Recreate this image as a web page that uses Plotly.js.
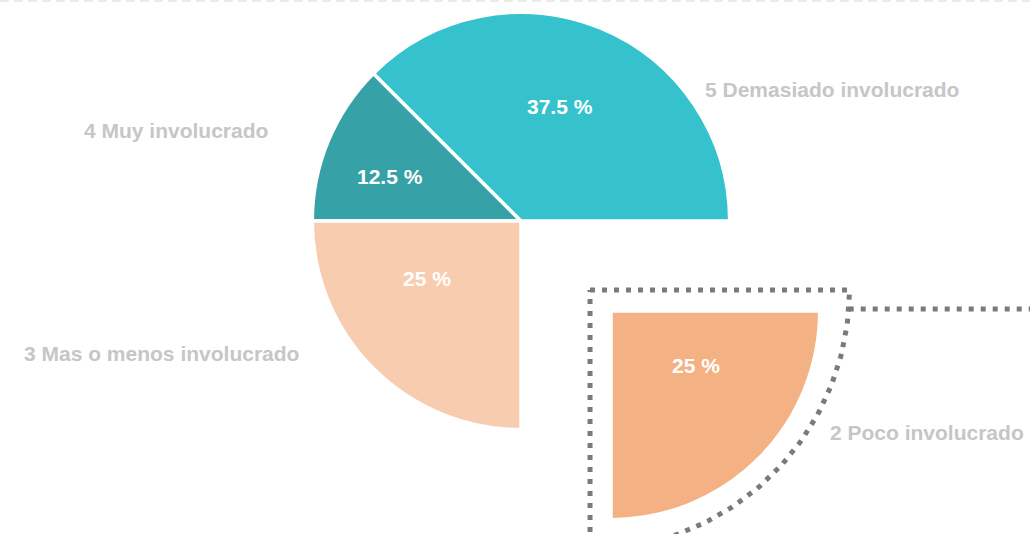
<!DOCTYPE html>
<html>
<head>
<meta charset="utf-8">
<script src="https://cdn.plot.ly/plotly-3.0.1.min.js"></script>
<style>
  html, body { margin: 0; padding: 0; background: #ffffff; width: 1030px; height: 534px; overflow: hidden; }
  /* the plot box is taller than the window so the exploded pie keeps its full radius */
  #chart { position: absolute; left: 0; top: -115px; width: 1030px; height: 672px; }
</style>
</head>
<body>
<div id="chart"></div>
<script>
// ---- data ----
const categories = ['4 Muy involucrado', '5 Demasiado involucrado', '2 Poco involucrado', '3 Mas o menos involucrado'];
const shares = [12.5, 37.5, 25, 25];
const sliceColors = ['#37A1A8', '#36C2CC', '#F4B183', '#F8CCAF'];
const explodedIndex = 2;

// ---- geometry of the page ----
const W = 1030, H = 672, TOP = -115;          // plot box size and its offset in the window
const domainX = [185 / W, 857 / W];
const ROTATION = 270;                           // first slice starts at 9 o'clock
const PULL = 0.61;
const FONT = 'Liberation Sans, Arial, Helvetica, sans-serif';

// same sizing rule the pie uses: radius = half of the box / (1 + max pull)
const boxHalf = Math.min((domainX[1] - domainX[0]) * W, H) / 2;
const R = boxHalf / (1 + PULL);
const cx = (domainX[0] + domainX[1]) / 2 * W;
const cy = H / 2 + TOP;                         // window coordinates (y down)

const total = shares.reduce((a, b) => a + b, 0);
const deg = Math.PI / 180;
const pt = (ox, oy, rho, a) => [ox + rho * Math.sin(a * deg), oy - rho * Math.cos(a * deg)];

// angles of the exploded slice (clockwise from ROTATION)
const before = shares.slice(0, explodedIndex).reduce((a, b) => a + b, 0);
const a0 = ROTATION + 360 * before / total;
const a1 = a0 + 360 * shares[explodedIndex] / total;
const aMid = (a0 + a1) / 2;
const [px, py] = pt(cx, cy, R * PULL, aMid);    // apex of the pulled slice

// dotted highlight sector around the pulled slice
const GAP = 21;
const shift = GAP / Math.sin((a1 - a0) / 2 * deg);
const [ox, oy] = pt(px, py, -shift, aMid);
const Ro = R + GAP + shift;
const outX = [ox], outY = [oy];
for (let i = 0; i <= 90; i++) {
  const [x, y] = pt(ox, oy, Ro, a0 + (a1 - a0) * i / 90);
  outX.push(x); outY.push(y);
}
outX.push(ox); outY.push(oy);

// connector running right from the highlight at the slice's top edge
const connY = py - 2;
const connX0 = ox + Math.sqrt(Ro * Ro - (connY - oy) * (connY - oy));

const dotted = { color: '#7A7A7A', width: 5, dash: '5px,7px' };

const traces = [
  {
    type: 'scatter', mode: 'lines', x: outX, y: outY,
    line: dotted, hoverinfo: 'skip', showlegend: false
  },
  {
    type: 'scatter', mode: 'lines', x: [connX0, W], y: [connY, connY],
    line: dotted, hoverinfo: 'skip', showlegend: false
  },
  {
    type: 'pie',
    labels: categories,
    values: shares,
    sort: false,
    direction: 'clockwise',
    rotation: ROTATION,
    pull: categories.map((_, i) => (i === explodedIndex ? PULL : 0)),
    marker: { colors: sliceColors, line: { color: '#ffffff', width: 3.5 } },
    textinfo: 'none',
    domain: { x: domainX, y: [0, 1] },
    hoverinfo: 'none',
    showlegend: false
  }
];

// category names set around the pie, and each slice's share inside it
const labelSpots = [[176, 130], [832, 89], [927, 432], [161, 353]];
const valueSpots = [[390, 176], [560, 106], [696, 365], [427, 278]];
const annotations = [];
categories.forEach((name, i) => {
  annotations.push({
    xref: 'x', yref: 'y', x: labelSpots[i][0], y: labelSpots[i][1],
    text: name, showarrow: false, xanchor: 'center', yanchor: 'middle',
    font: { family: FONT, size: 21, color: '#C6C6C6', weight: 'bold' }
  });
  annotations.push({
    xref: 'x', yref: 'y', x: valueSpots[i][0], y: valueSpots[i][1],
    text: shares[i] + ' %', showarrow: false, xanchor: 'center', yanchor: 'middle',
    font: { family: FONT, size: 21, color: '#FFFFFF', weight: 'bold' }
  });
});

const layout = {
  width: W, height: H,
  margin: { l: 0, r: 0, t: 0, b: 0 },
  paper_bgcolor: '#ffffff', plot_bgcolor: 'rgba(0,0,0,0)',
  xaxis: { range: [0, W], visible: false, fixedrange: true },
  yaxis: { range: [H + TOP, TOP], visible: false, fixedrange: true },
  showlegend: false,
  hovermode: false,
  annotations: annotations,
  shapes: [{
    type: 'line', xref: 'x', yref: 'y', x0: 0, x1: W, y0: 1, y1: 1,
    line: { color: '#EBEBEB', width: 2, dash: '9px,5px' }
  }]
};

Plotly.newPlot('chart', traces, layout, { displayModeBar: false, staticPlot: true });
</script>
</body>
</html>
